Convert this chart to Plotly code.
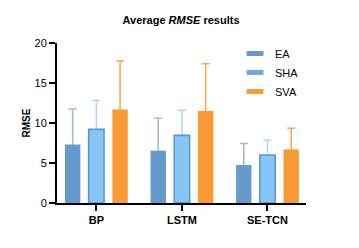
import plotly.graph_objects as go

categories = ["BP", "LSTM", "SE-TCN"]
series_names = ["EA", "SHA", "SVA"]
ea_values = [7.3, 6.55, 4.75]
ea_errors = [4.45, 4.05, 2.7]
sha_values = [9.2, 8.45, 6.0]
sha_errors = [3.6, 3.15, 1.85]
sva_values = [11.7, 11.5, 6.7]
sva_errors = [6.05, 5.9, 2.65]
y_ticks = [0, 5, 10, 15, 20]

values = [ea_values, sha_values, sva_values]
errors = [ea_errors, sha_errors, sva_errors]
fills = ["#6699CC", "#85C6F6", "#F99A34"]
borders = ["#6699CC", "#5B97D2", "#F99A34"]
err_colors = ["#98BADF", "#A9D6F4", "#F8A448"]
border_w = [0, 1.6, 0]

bar_w = 0.18
pitch = 0.277
offsets = [-pitch - bar_w / 2, -bar_w / 2, pitch - bar_w / 2]

fig = go.Figure()
# error-bar carriers (drawn first, so bars cover the lower whisker)
for i in range(3):
    fig.add_trace(go.Bar(
        x=categories, y=values[i], width=bar_w, offset=offsets[i],
        marker=dict(color="rgba(0,0,0,0)", line=dict(width=0)),
        error_y=dict(type="data", array=errors[i], arrayminus=values[i],
                     symmetric=False, color=err_colors[i], thickness=1.5, width=4),
        showlegend=False, hoverinfo="skip"))
for i in range(3):
    fig.add_trace(go.Bar(
        x=categories, y=values[i], width=bar_w, offset=offsets[i],
        marker=dict(color=fills[i], line=dict(color=borders[i], width=border_w[i])),
        name=series_names[i], showlegend=False))
# legend swatches
leg_colors = ["#6699CC", "#6FA9E0", "#F99A34"]
for i in range(3):
    fig.add_trace(go.Scatter(
        x=[None], y=[None], mode="markers", name=series_names[i],
        marker=dict(symbol="line-ew", size=12,
                    line=dict(color=leg_colors[i], width=5))))

fig.update_layout(
    width=351, height=240, barmode="overlay",
    paper_bgcolor="white", plot_bgcolor="white",
    margin=dict(l=49, r=53, t=35, b=45),
    font=dict(family="Liberation Sans, Arial, sans-serif", color="black"),
    title=dict(text="<b>Average <i>RMSE</i> results</b>", x=0.493, xanchor="center",
               y=0.95, yanchor="middle", font=dict(size=11)),
    legend=dict(x=0.715, y=1.025, xanchor="left", yanchor="top",
                font=dict(size=11), bgcolor="rgba(0,0,0,0)", tracegroupgap=0,
                itemsizing="trace"),
    showlegend=True,
)
fig.update_xaxes(range=[-0.46, 2.45], showline=True, linecolor="black", linewidth=2,
                 ticks="outside", ticklen=6, tickwidth=1.5, tickcolor="black",
                 tickfont=dict(size=11, family="Liberation Sans, Arial", color="black"),
                 tickprefix="<b>", ticksuffix="</b>", showgrid=False, zeroline=False)
fig.update_yaxes(range=[0, 20], tickvals=y_ticks, showline=True, linecolor="black",
                 linewidth=2, ticks="outside", ticklen=6, tickwidth=1.5, tickcolor="black",
                 tickfont=dict(size=11, color="black"), tickprefix="<b>", ticksuffix="</b>",
                 showgrid=False, zeroline=False,
                 title=dict(text="<b>RMSE</b>", font=dict(size=10), standoff=2))

fig.write_html("out.html")
